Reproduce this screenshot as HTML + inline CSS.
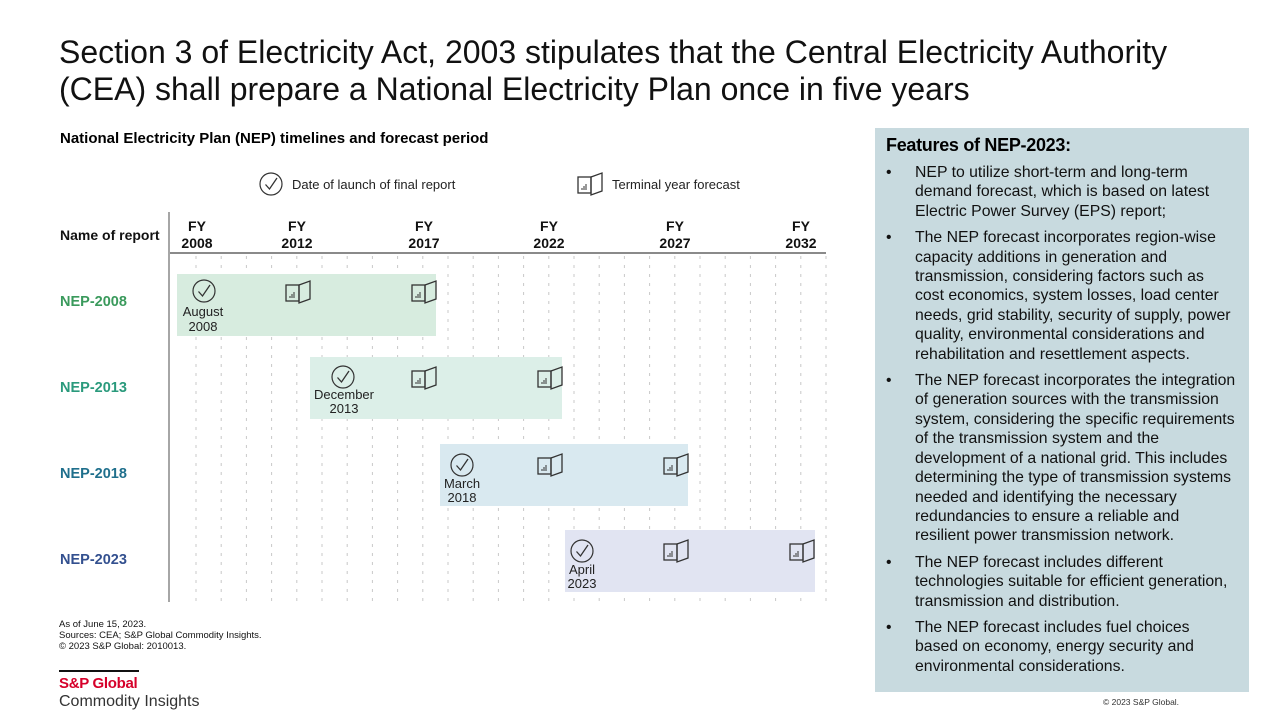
<!DOCTYPE html>
<html><head><meta charset="utf-8"><style>
body{margin:0;width:1280px;height:720px;background:#fff;font-family:"Liberation Sans",Arial,sans-serif;position:relative;overflow:hidden;color:#000}
.t{position:absolute;white-space:nowrap}
#title{left:59px;top:34px;font-size:32px;line-height:37px;color:#111}
#panel{position:absolute;left:875px;top:128px;width:374px;height:564px;background:#c8dadf}
#panel h3{margin:0;position:absolute;left:11px;top:7px;font-size:18px;font-weight:bold;letter-spacing:-0.3px}
#panel ul{position:absolute;left:0;top:35px;margin:0;padding:0;list-style:none;width:374px}
#panel li{position:relative;padding-left:40px;font-size:15.8px;line-height:19.4px;margin-bottom:7px;color:#111;white-space:nowrap}
#panel li:before{content:"•";position:absolute;left:11px;top:0}
</style></head><body>
<div id="title" class="t">Section 3 of Electricity Act, 2003 stipulates that the Central Electricity Authority<br>(CEA) shall prepare a National Electricity Plan once in five years</div>
<div class="t" style="left:60px;top:130px;font-size:15px;font-weight:bold">National Electricity Plan (NEP) timelines and forecast period</div>
<svg style="position:absolute;left:0;top:0" width="870" height="720">
<defs>
<g id="chk"><circle cx="0" cy="0" r="11" fill="none" stroke="#333" stroke-width="1.2"/><path d="M-5.5,0.5 L-1.5,5 L6,-6" fill="none" stroke="#333" stroke-width="1.3"/></g>
<g id="bk" fill="none" stroke="#333" stroke-width="1.3"><rect x="-12" y="-7" width="13" height="16"/><path d="M1,-7 L12,-11 L12,7 L1,11 Z"/><path d="M-8,6 v-2 M-6,6 v-4 M-4,6 v-6" stroke-width="1"/></g>
</defs>
<g id="grid" stroke="#c8c8c8" stroke-width="1" stroke-dasharray="3,6"></g>
<rect x="177" y="274" width="259" height="62" fill="#d7ecdf"/>
<rect x="310" y="357" width="252" height="62" fill="#dcefe8"/>
<rect x="440" y="444" width="248" height="62" fill="#d9e9f0"/>
<rect x="565" y="530" width="250" height="62" fill="#e1e4f2"/>
<line x1="169" y1="212" x2="169" y2="602" stroke="#777" stroke-width="1.3"/>
<line x1="170" y1="253" x2="826" y2="253" stroke="#444" stroke-width="1.3"/>
<g font-size="14" font-weight="bold" text-anchor="middle" fill="#111">
<text x="197" y="231">FY</text><text x="197" y="248">2008</text>
<text x="297" y="231">FY</text><text x="297" y="248">2012</text>
<text x="424" y="231">FY</text><text x="424" y="248">2017</text>
<text x="549" y="231">FY</text><text x="549" y="248">2022</text>
<text x="675" y="231">FY</text><text x="675" y="248">2027</text>
<text x="801" y="231">FY</text><text x="801" y="248">2032</text>
</g>
<text x="60" y="240" font-size="14" font-weight="bold" fill="#111">Name of report</text>
<g font-size="14.5" font-weight="bold">
<text x="60" y="306" fill="#3a9a5c">NEP-2008</text>
<text x="60" y="392" fill="#2a9a7c">NEP-2013</text>
<text x="60" y="478" fill="#1f6f8c">NEP-2018</text>
<text x="60" y="564" fill="#33508f">NEP-2023</text>
</g>
<use href="#chk" x="271" y="184"/>
<text x="292" y="189" font-size="13" fill="#222">Date of launch of final report</text>
<use href="#bk" x="590" y="184"/>
<text x="612" y="189" font-size="13" fill="#222">Terminal year forecast</text>
<g font-size="13" text-anchor="middle" fill="#222">
<use href="#chk" x="204" y="291"/><text x="203" y="316">August</text><text x="203" y="331">2008</text>
<use href="#chk" x="343" y="377"/><text x="344" y="399">December</text><text x="344" y="413">2013</text>
<use href="#chk" x="462" y="465"/><text x="462" y="488">March</text><text x="462" y="502">2018</text>
<use href="#chk" x="582" y="551"/><text x="582" y="574">April</text><text x="582" y="588">2023</text>
</g>
<use href="#bk" x="298" y="292"/><use href="#bk" x="424" y="292"/>
<use href="#bk" x="424" y="378"/><use href="#bk" x="550" y="378"/>
<use href="#bk" x="550" y="465"/><use href="#bk" x="676" y="465"/>
<use href="#bk" x="676" y="551"/><use href="#bk" x="802" y="551"/>
<g font-size="9.5" fill="#111">
<text x="59" y="627">As of June 15, 2023.</text>
<text x="59" y="638">Sources: CEA; S&amp;P Global Commodity Insights.</text>
<text x="59" y="649">© 2023 S&amp;P Global: 2010013.</text>
</g>
<line x1="59" y1="671" x2="139" y2="671" stroke="#111" stroke-width="2"/>
<text x="59" y="688" font-size="15" font-weight="bold" fill="#d6002a" letter-spacing="-0.3">S&amp;P Global</text>
<text x="59" y="706" font-size="16" fill="#333">Commodity Insights</text>
</svg>
<div id="panel"><h3>Features of NEP-2023:</h3>
<ul>
<li>NEP to utilize short-term and long-term<br>demand forecast, which is based on latest<br>Electric Power Survey (EPS) report;</li>
<li>The NEP forecast incorporates region-wise<br>capacity additions in generation and<br>transmission, considering factors such as<br>cost economics, system losses, load center<br>needs, grid stability, security of supply, power<br>quality, environmental considerations and<br>rehabilitation and resettlement aspects.</li>
<li>The NEP forecast incorporates the integration<br>of generation sources with the transmission<br>system, considering the specific requirements<br>of the transmission system and the<br>development of a national grid. This includes<br>determining the type of transmission systems<br>needed and identifying the necessary<br>redundancies to ensure a reliable and<br>resilient power transmission network.</li>
<li>The NEP forecast includes different<br>technologies suitable for efficient generation,<br>transmission and distribution.</li>
<li>The NEP forecast includes fuel choices<br>based on economy, energy security and<br>environmental considerations.</li>
</ul></div>
<div class="t" style="left:1103px;top:697px;font-size:8.5px;color:#333">© 2023 S&amp;P Global.</div>
<script>
var g=document.getElementById('grid'),s='';
for(var i=0;i<26;i++){var x=196+i*25.2;s+='<line x1="'+x+'" y1="256" x2="'+x+'" y2="602"/>';}
g.innerHTML=s;
</script>
</body></html>
